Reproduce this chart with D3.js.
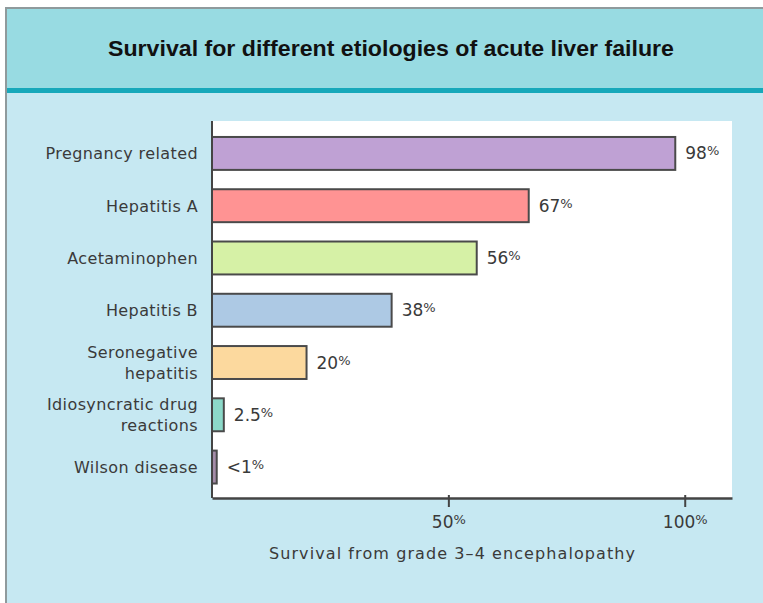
<!DOCTYPE html>
<html>
<head>
<meta charset="utf-8">
<script src="https://cdn.jsdelivr.net/npm/d3@7"></script>
<style>
  body { margin: 0; background: #ffffff; }
  svg { display: block; }
</style>
</head>
<body>
<div id="chart"></div>
<script>
// chart values
var categories = ["Pregnancy related", "Hepatitis A", "Acetaminophen", "Hepatitis B",
	"Seronegative hepatitis", "Idiosyncratic drug reactions", "Wilson disease"];
var categoryLines = [["Pregnancy related"], ["Hepatitis A"], ["Acetaminophen"], ["Hepatitis B"],
	["Seronegative", "hepatitis"], ["Idiosyncratic drug", "reactions"], ["Wilson disease"]];
var survival = [98, 67, 56, 38, 20, 2.5, 1];
var valueLabels = ["98", "67", "56", "38", "20", "2.5", "<1"];
var barColors = ["#bfa1d4", "#ff9393", "#d6f1a6", "#adc9e4", "#fcd99e", "#8cd9c9", "#a48ca8"];
var tickValues = [50, 100];
var title = "Survival for different etiologies of acute liver failure";
var axisTitle = "Survival from grade 3\u20134 encephalopathy";

function drawChart(identifier) {
	var width = 763, height = 603;
	var plot = { left : 212, right : 732, top : 121, bottom : 498 };

	var svg = d3.select(identifier).append("svg").attr("width", width)
			.attr("height", height);

	// frame, header and body panels
	svg.append("rect").attr("x", 5).attr("y", 7).attr("width", width - 5)
			.attr("height", height - 7).attr("fill", "#8f9a9c");
	svg.append("rect").attr("x", 7).attr("y", 9).attr("width", width - 7)
			.attr("height", 80).attr("fill", "#98dbe2");
	svg.append("rect").attr("x", 7).attr("y", 88).attr("width", width - 7)
			.attr("height", 5).attr("fill", "#17a8ba");
	svg.append("rect").attr("x", 7).attr("y", 93).attr("width", width - 7)
			.attr("height", height - 93).attr("fill", "#c6e8f2");

	svg.append("text").attr("x", 391).attr("y", 56).attr("text-anchor", "middle")
			.attr("font-family", "'Liberation Sans Narrow', 'Arial Narrow', sans-serif")
			.attr("font-weight", "bold").attr("font-size", 22).attr("fill", "#111")
			.attr("textLength", 566).attr("lengthAdjust", "spacingAndGlyphs")
			.text(title);

	// plot area
	svg.append("rect").attr("x", plot.left).attr("y", plot.top)
			.attr("width", plot.right - plot.left)
			.attr("height", plot.bottom - plot.top).attr("fill", "#ffffff");

	var x = d3.scaleLinear().domain([ 0, 110 ]).range([ plot.left, plot.right ]);
	var y = d3.scaleBand().domain(categories).range([ 127.3, 493.2 ])
			.paddingInner(0.37).paddingOuter(0.185);

	var rows = categories.map(function(c, i) {
		return { name : c, lines : categoryLines[i], value : survival[i],
			label : valueLabels[i], color : barColors[i] };
	});

	svg.selectAll("rect.bar").data(rows).enter().append("rect")
			.attr("class", "bar").attr("x", x(0)).attr("y", function(d) {
				return y(d.name);
			}).attr("width", function(d) {
				return x(d.value) - x(0);
			}).attr("height", y.bandwidth()).attr("fill", function(d) {
				return d.color;
			}).attr("stroke", "#4a4a4a").attr("stroke-width", 2);

	// category labels
	var font = "'DejaVu Sans', sans-serif";
	var catText = svg.selectAll("text.cat").data(rows).enter().append("text")
			.attr("class", "cat").attr("text-anchor", "end")
			.attr("font-family", font).attr("font-size", 16)
			.attr("letter-spacing", 0.4).attr("fill", "#3a3a3a");
	catText.each(function(d) {
		var cy = y(d.name) + y.bandwidth() / 2;
		var n = d.lines.length;
		var t = d3.select(this);
		d.lines.forEach(function(line, k) {
			t.append("tspan").attr("x", 198)
					.attr("y", cy + (k - (n - 1) / 2) * 21 + 6).text(line);
		});
	});

	// value labels with raised, smaller percent sign
	var valText = svg.selectAll("text.val").data(rows).enter().append("text")
			.attr("class", "val").attr("x", function(d) {
				return x(d.value) + 10;
			}).attr("y", function(d) {
				return y(d.name) + y.bandwidth() / 2 + 6;
			}).attr("font-family", font).attr("font-size", 17)
			.attr("fill", "#3a3a3a");
	valText.append("tspan").text(function(d) {
		return d.label;
	});
	valText.append("tspan").attr("font-size", 13).attr("dy", -4).text("%");

	// axes
	var xAxis = svg.append("g").attr("transform", "translate(0," + plot.bottom + ")")
			.call(d3.axisBottom(x).tickValues(tickValues).tickSizeInner(9)
					.tickSizeOuter(0).tickFormat(""));
	xAxis.select(".domain").attr("stroke", "#444").attr("stroke-width", 2.5);
	xAxis.selectAll(".tick line").attr("stroke", "#444").attr("stroke-width", 2)
			.attr("y1", -3);
	var tickText = xAxis.selectAll(".tick").append("text").attr("y", 30)
			.attr("text-anchor", "middle").attr("font-family", font)
			.attr("font-size", 17).attr("fill", "#3a3a3a");
	tickText.append("tspan").text(function(d) {
		return d;
	});
	tickText.append("tspan").attr("font-size", 13).attr("dy", -4).text("%");

	svg.append("line").attr("x1", plot.left).attr("x2", plot.left)
			.attr("y1", plot.top).attr("y2", plot.bottom)
			.attr("stroke", "#444").attr("stroke-width", 2);

	svg.append("text").attr("x", 452).attr("y", 559).attr("text-anchor", "middle")
			.attr("font-family", font).attr("font-size", 16).attr("fill", "#3a3a3a")
			.attr("textLength", 366).attr("lengthAdjust", "spacing")
			.text(axisTitle);
}

drawChart("#chart");
</script>
</body>
</html>
